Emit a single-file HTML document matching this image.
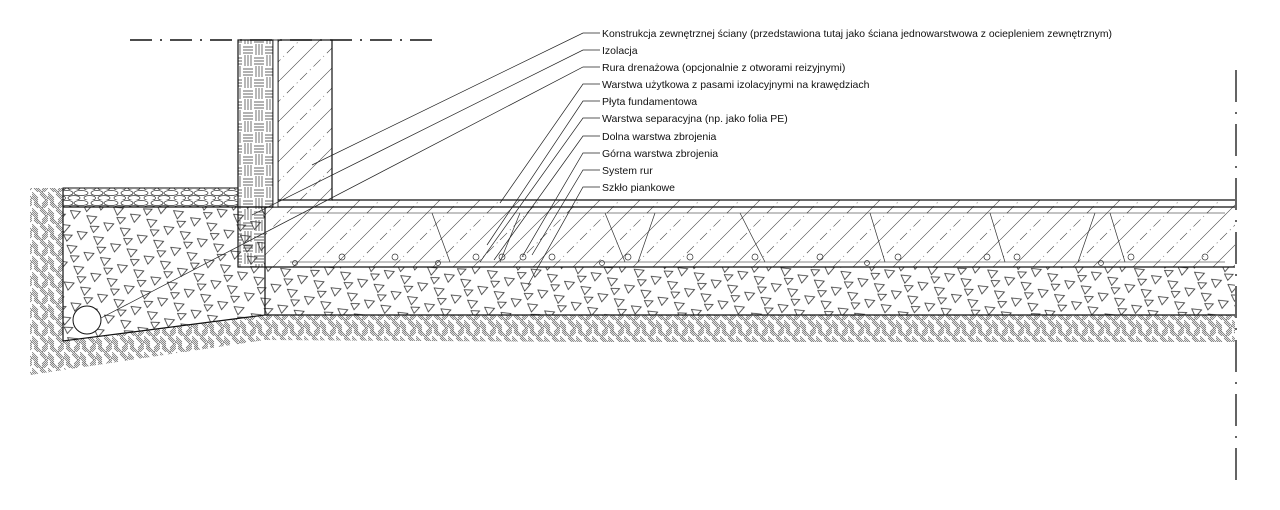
<!DOCTYPE html>
<html><head><meta charset="utf-8"><style>
html,body{margin:0;padding:0;background:#fff;width:1280px;height:510px;overflow:hidden}
svg{display:block}
text{font-family:"Liberation Sans",sans-serif;font-size:10.5px;fill:#111}
</style></head><body>
<svg width="1280" height="510" viewBox="0 0 1280 510" xmlns="http://www.w3.org/2000/svg">
<defs>
<pattern id="soil" width="16" height="16" patternUnits="userSpaceOnUse">
<g stroke="#555" stroke-width="0.6">
<path d="M0 2l6 6M0 4l6 6M0 6l6 6M0 0l6 6"/>
<path d="M16 8l-6 6M16 10l-6 6M16 12l-6 6M16 6l-6 6"/>
<path d="M8 0l6 6M8 2l6 6M10 0l6 6"/>
<path d="M8 16l-6 -6M6 16l-4 -4M10 16l-6 -6"/>
</g></pattern>
<pattern id="tri" width="28" height="22" patternUnits="userSpaceOnUse" patternTransform="rotate(-18)">
<g fill="none" stroke="#333" stroke-width="0.8">
<path d="M2 2l9 4l-8 5z"/><path d="M16 12l9 4l-8 5z"/><path d="M16 1l8 3l-7 4z"/>
</g></pattern>
<pattern id="conc" width="40" height="40" patternUnits="userSpaceOnUse">
<g stroke="#444" stroke-width="0.6" fill="none">
<path d="M0 40L40 0"/><path d="M-20 40L20 0" stroke-dasharray="10 4 1 4"/><path d="M20 40L60 0" stroke-dasharray="10 4 1 4"/>
</g></pattern>
<pattern id="brick" width="22" height="22" patternUnits="userSpaceOnUse">
<g stroke="#333" stroke-width="0.7" fill="none">
<path d="M1 3h10M1 6h10M1 9h10"/><path d="M14 0v11M17 0v11M20 0v11"/>
<path d="M12 14h10M12 17h10M12 20h10"/><path d="M3 11v11M6 11v11M9 11v11"/>
</g></pattern>
<pattern id="grav" width="30" height="10" patternUnits="userSpaceOnUse">
<g stroke="#333" stroke-width="0.7" fill="none">
<ellipse cx="7" cy="3" rx="6" ry="2.6"/><ellipse cx="21" cy="3" rx="7" ry="2.6"/><ellipse cx="14" cy="8" rx="6" ry="2.4"/><ellipse cx="0" cy="8" rx="5.5" ry="2.4"/><ellipse cx="29" cy="8" rx="5" ry="2.4"/>
</g></pattern>
</defs>

<path d="M30 188H63V341L265 315H1235V342H600L265 340L30 375Z" fill="url(#soil)"/>
<path d="M63 207H265V315L63 341Z" fill="url(#tri)"/>
<path d="M265 267H1235V315H265Z" fill="url(#tri)"/>
<path d="M63 188V341L265 315H1235M63 207H238" fill="none" stroke="#111" stroke-width="1.2"/>
<line x1="265" y1="267" x2="265" y2="315" stroke="#111" stroke-width="1.2"/>
<rect x="63" y="188" width="175" height="19" fill="url(#grav)" stroke="#111" stroke-width="1"/>
<circle cx="87" cy="320" r="14" fill="#fff" stroke="#111"/>
<rect x="265" y="207" width="970" height="60" fill="url(#conc)"/>
<rect x="278" y="200" width="957" height="7" fill="url(#conc)"/>
<g stroke="#111" stroke-width="1.2" fill="none">
<path d="M332 200H1235M265 207H1235M265 267H1235"/>
<path d="M290 213H1225M290 262H1225" stroke-width="0.6"/>
</g>
<g stroke="#333" stroke-width="0.7" fill="none">
<path d="M432 213L450 262M520 213L500 262M605 213L625 262M655 213L638 262M740 213L765 262M870 213L885 262M990 213L1005 262M1095 213L1078 262M1110 213L1125 262"/>
<g>
<circle cx="295" cy="263" r="2.5"/><circle cx="342" cy="257" r="3"/><circle cx="395" cy="257" r="3"/><circle cx="438" cy="263" r="2.5"/><circle cx="476" cy="257" r="3"/><circle cx="502" cy="257" r="3"/><circle cx="523" cy="257" r="3"/><circle cx="552" cy="257" r="3"/><circle cx="602" cy="263" r="2.5"/><circle cx="628" cy="257" r="3"/><circle cx="690" cy="257" r="3"/><circle cx="755" cy="257" r="3"/><circle cx="820" cy="257" r="3"/><circle cx="867" cy="263" r="2.5"/><circle cx="898" cy="257" r="3"/><circle cx="987" cy="257" r="3"/><circle cx="1017" cy="257" r="3"/><circle cx="1101" cy="263" r="2.5"/><circle cx="1131" cy="257" r="3"/><circle cx="1205" cy="257" r="3"/>
</g></g>
<rect x="278" y="40" width="54" height="160" fill="url(#conc)" stroke="#111" stroke-width="1.2"/>
<rect x="238" y="40" width="35" height="167" fill="url(#brick)" stroke="#111" stroke-width="1.2"/>
<rect x="273" y="40" width="5" height="167" fill="#fff" stroke="#111" stroke-width="0.8"/>
<rect x="238" y="207" width="27" height="60" fill="url(#brick)" stroke="#111" stroke-width="1.2"/>
<line x1="130" y1="40" x2="432" y2="40" stroke="#111" stroke-width="1.5" stroke-dasharray="22 8 2 8"/>
<line x1="1236" y1="70" x2="1236" y2="490" stroke="#111" stroke-width="1.3" stroke-dasharray="32 10 2 10"/>
<g stroke="#222" stroke-width="0.7" fill="none">
<path d="M600 33H583L312 165"/>
<path d="M600 50H583L252 215"/>
<path d="M600 67H583L101 318"/>
<path d="M600 84H583L500 203"/>
<path d="M600 101H583L487 245"/>
<path d="M600 118H583L480 262"/>
<path d="M600 136H583L494 260"/>
<path d="M600 153H583L522 257"/>
<path d="M600 170H583L532 255"/>
<path d="M600 187H583L528 285"/>
</g>
<text x="602" y="37" textLength="510" lengthAdjust="spacingAndGlyphs">Konstrukcja zewnętrznej ściany (przedstawiona tutaj jako ściana jednowarstwowa z ociepleniem zewnętrznym)</text>
<text x="602" y="54">Izolacja</text>
<text x="602" y="71">Rura drenażowa (opcjonalnie z otworami reizyjnymi)</text>
<text x="602" y="88">Warstwa użytkowa  z pasami izolacyjnymi na krawędziach</text>
<text x="602" y="105">Płyta fundamentowa</text>
<text x="602" y="122">Warstwa separacyjna (np. jako folia PE)</text>
<text x="602" y="140">Dolna warstwa zbrojenia</text>
<text x="602" y="157">Górna warstwa zbrojenia</text>
<text x="602" y="174">System rur</text>
<text x="602" y="191">Szkło piankowe</text>
</svg>
</body></html>
